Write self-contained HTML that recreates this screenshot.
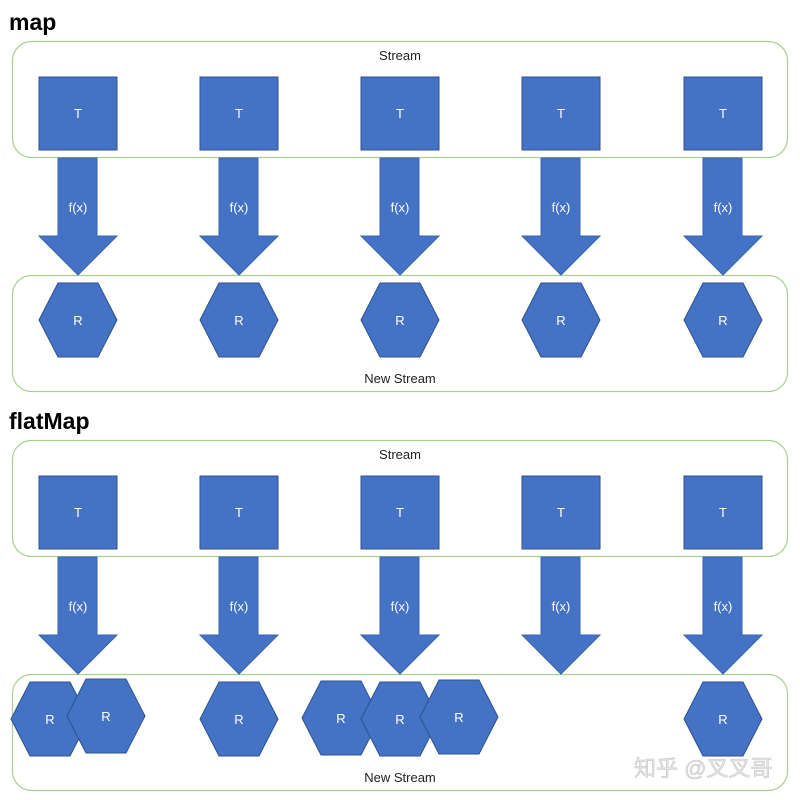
<!DOCTYPE html>
<html><head><meta charset="utf-8"><style>
html,body{margin:0;padding:0;background:#fff;}
svg{display:block;}
text{font-family:"Liberation Sans","Noto Sans CJK SC",sans-serif;}
</style></head><body>
<svg width="800" height="800" viewBox="0 0 800 800" xmlns="http://www.w3.org/2000/svg">
<defs>
<g id="arrow"><polygon points="-20,0 19,0 19,78 39,78 0,117 -39,78 -20,78" fill="#4472c4" stroke="#3a64b0" stroke-width="1"/></g>
<g id="hex"><polygon points="-39,0 -20,-37 20,-37 39,0 20,37 -20,37" fill="#4472c4" stroke="#2f528f" stroke-width="1"/></g>
</defs>
<rect width="800" height="800" fill="#fff"/>
<!-- MAP -->
<text x="9" y="30" font-size="23" font-weight="bold" fill="#000">map</text>
<rect x="12.5" y="41.5" width="775" height="116" rx="19" fill="none" stroke="#a9d18e" stroke-width="1.2"/>
<text x="400" y="60" font-size="13" fill="#222" text-anchor="middle">Stream</text>
<rect x="12.5" y="275.5" width="775" height="116" rx="19" fill="none" stroke="#a9d18e" stroke-width="1.2"/>
<text x="400" y="383" font-size="13" fill="#222" text-anchor="middle">New Stream</text>
<g id="row">
<g transform="translate(78,0)"><rect x="-39" y="77" width="78" height="73" fill="#4472c4" stroke="#2f528f"/><text x="0" y="118" font-size="13" fill="#fff" text-anchor="middle">T</text><use href="#arrow" y="158"/><text x="0" y="212" font-size="13" fill="#fff" text-anchor="middle">f(x)</text></g>
<g transform="translate(239,0)"><rect x="-39" y="77" width="78" height="73" fill="#4472c4" stroke="#2f528f"/><text x="0" y="118" font-size="13" fill="#fff" text-anchor="middle">T</text><use href="#arrow" y="158"/><text x="0" y="212" font-size="13" fill="#fff" text-anchor="middle">f(x)</text></g>
<g transform="translate(400,0)"><rect x="-39" y="77" width="78" height="73" fill="#4472c4" stroke="#2f528f"/><text x="0" y="118" font-size="13" fill="#fff" text-anchor="middle">T</text><use href="#arrow" y="158"/><text x="0" y="212" font-size="13" fill="#fff" text-anchor="middle">f(x)</text></g>
<g transform="translate(561,0)"><rect x="-39" y="77" width="78" height="73" fill="#4472c4" stroke="#2f528f"/><text x="0" y="118" font-size="13" fill="#fff" text-anchor="middle">T</text><use href="#arrow" y="158"/><text x="0" y="212" font-size="13" fill="#fff" text-anchor="middle">f(x)</text></g>
<g transform="translate(723,0)"><rect x="-39" y="77" width="78" height="73" fill="#4472c4" stroke="#2f528f"/><text x="0" y="118" font-size="13" fill="#fff" text-anchor="middle">T</text><use href="#arrow" y="158"/><text x="0" y="212" font-size="13" fill="#fff" text-anchor="middle">f(x)</text></g>
</g>
<g fill="#fff" font-size="13" text-anchor="middle">
<use href="#hex" x="78" y="320"/><text x="78" y="325">R</text>
<use href="#hex" x="239" y="320"/><text x="239" y="325">R</text>
<use href="#hex" x="400" y="320"/><text x="400" y="325">R</text>
<use href="#hex" x="561" y="320"/><text x="561" y="325">R</text>
<use href="#hex" x="723" y="320"/><text x="723" y="325">R</text>
</g>
<!-- FLATMAP -->
<text x="9" y="429" font-size="23" font-weight="bold" fill="#000">flatMap</text>
<rect x="12.5" y="440.5" width="775" height="116" rx="19" fill="none" stroke="#a9d18e" stroke-width="1.2"/>
<text x="400" y="459" font-size="13" fill="#222" text-anchor="middle">Stream</text>
<rect x="12.5" y="674.5" width="775" height="116" rx="19" fill="none" stroke="#a9d18e" stroke-width="1.2"/>
<text x="400" y="782" font-size="13" fill="#222" text-anchor="middle">New Stream</text>
<use href="#row" y="399"/>
<g fill="#fff" font-size="13" text-anchor="middle">
<use href="#hex" x="50" y="719"/><text x="50" y="724">R</text>
<use href="#hex" x="106" y="716"/><text x="106" y="721">R</text>
<use href="#hex" x="239" y="719"/><text x="239" y="724">R</text>
<use href="#hex" x="341" y="718"/><text x="341" y="723">R</text>
<use href="#hex" x="400" y="719"/><text x="400" y="724">R</text>
<use href="#hex" x="459" y="717"/><text x="459" y="722">R</text>
<use href="#hex" x="723" y="719"/><text x="723" y="724">R</text>
</g>
<text x="634" y="776" font-size="22" fill="#e6e6e6" stroke="#c8c8c8" stroke-width="0.6">知乎 @叉叉哥</text>
</svg>
</body></html>
